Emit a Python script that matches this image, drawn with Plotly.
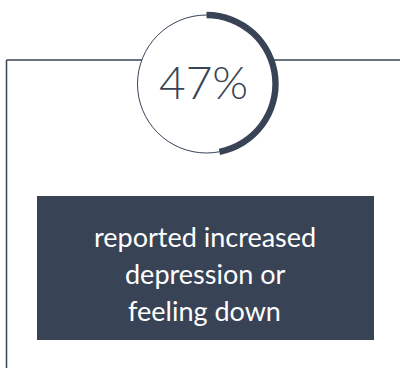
import plotly.graph_objects as go

# Share of respondents and the caption shown under the gauge
share_pct = [47]
caption_lines = ["reported increased", "depression or", "feeling down"]

W, H = 400, 368
NAVY = "#394356"

# Gauge geometry (pixels)
cx, cy, r = 206.5, 84, 69
ring = 3.2

def px_x(x):
    return x / W

def px_y(y):
    return 1 - y / H

fig = go.Figure()

# Progress arc of the gauge
fig.add_trace(go.Pie(
    values=[share_pct[0], 100 - share_pct[0]],
    marker=dict(colors=[NAVY, "rgba(0,0,0,0)"], line=dict(width=0)),
    hole=(r - ring) / (r + ring),
    direction="clockwise",
    sort=False,
    rotation=0,
    textinfo="none",
    hoverinfo="skip",
    showlegend=False,
    domain=dict(
        x=[px_x(cx - r - ring), px_x(cx + r + ring)],
        y=[px_y(cy + r + ring), px_y(cy - r - ring)],
    ),
))

shapes = [
    # frame: top rule and left rule
    dict(type="line", x0=6.5, x1=400, y0=60, y1=60,
         line=dict(color=NAVY, width=1.3), layer="below"),
    dict(type="line", x0=6.5, x1=6.5, y0=60, y1=368,
         line=dict(color=NAVY, width=1.5), layer="below"),
    # thin gauge track with white fill covering the rule
    dict(type="circle", x0=cx - r, x1=cx + r, y0=cy - r, y1=cy + r,
         fillcolor="white", line=dict(color=NAVY, width=1), layer="below"),
    # caption box
    dict(type="rect", x0=37, x1=374, y0=196, y1=340,
         fillcolor=NAVY, line=dict(width=0), layer="below"),
]

annotations = [
    dict(x=cx - 3, y=81, xref="x", yref="y", text=f"{share_pct[0]}%",
         showarrow=False, xanchor="center", yanchor="middle",
         font=dict(family="Lato", size=46, color=NAVY, weight=300)),
]
for i, line in enumerate(caption_lines):
    annotations.append(dict(
        x=204.5, y=236 + i * 37, xref="x", yref="y", text=line,
        showarrow=False, xanchor="center", yanchor="middle",
        font=dict(family="Lato", size=27, color="white"),
    ))

fig.update_layout(
    width=W, height=H,
    margin=dict(l=0, r=0, t=0, b=0),
    paper_bgcolor="white", plot_bgcolor="white",
    xaxis=dict(range=[0, W], visible=False, fixedrange=True),
    yaxis=dict(range=[H, 0], visible=False, fixedrange=True),
    shapes=shapes,
    annotations=annotations,
)

fig.write_html("out.html")
